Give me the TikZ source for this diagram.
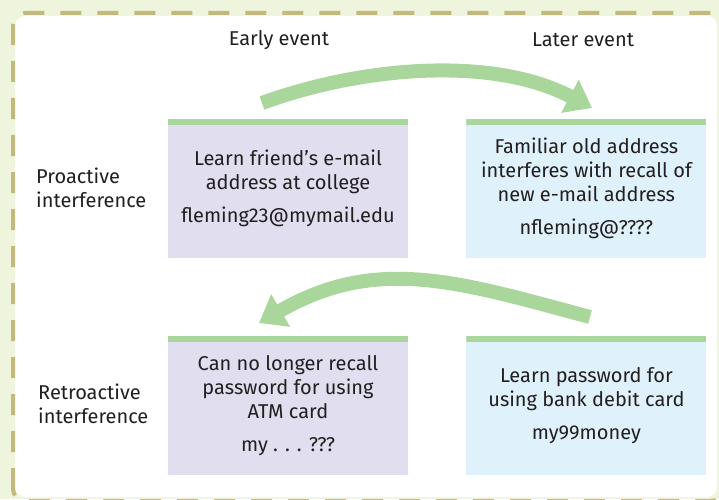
\documentclass[tikz,border=0pt]{standalone}
\usepackage{xcolor}
\usepackage{fontspec}
\setmainfont{Fira Sans}
\usetikzlibrary{arrows.meta,positioning}

\definecolor{pagegreen}{HTML}{EFF5DC}
\definecolor{dashkhaki}{HTML}{C2B97E}
\definecolor{lavender}{HTML}{E0DEEF}
\definecolor{skyblue}{HTML}{DFF1FB}
\definecolor{bargreen}{HTML}{A9D69B}
\definecolor{ink}{HTML}{231F20}

\begin{document}
\begin{tikzpicture}[x=1pt, y=1pt,
	box/.style={minimum width=240pt, minimum height=139pt, inner sep=0pt, align=center,
		text=ink, font=\fontsize{20}{24}\selectfont,
		path picture={\fill[bargreen] ([yshift=-6pt]path picture bounding box.north west)
			rectangle (path picture bounding box.north east);}},
	sidelabel/.style={anchor=west, align=left, inner sep=0pt, text=ink, font=\fontsize{20}{24}\selectfont},
	headlabel/.style={inner sep=0pt, text=ink, font=\fontsize{20}{24}\selectfont},
	bigarrow/.style={draw=bargreen, line width=14pt, -{Triangle[width=36pt, length=25pt]}}]
			\def\gap{9pt}
			
			% background and dashed frame
			\fill[pagegreen] (0,0) rectangle (719,499);
			\useasboundingbox (0,0) rectangle (719,499);
			\fill[white, rounded corners=10pt] (15,2) rectangle (717,483);
			\draw[dashkhaki, line width=4pt, dash pattern=on 21pt off 16pt, rounded corners=12pt]
			(13,-2) rectangle (723,486);
			
			% proactive row
			\node[box, fill=lavender] (learnmail) at (288,310.5)
			{Learn friend’s e-mail\\address at college\\[\gap]fleming23@mymail.edu};
			\node[box, fill=skyblue, right=58pt of learnmail] (recallmail)
			{Familiar old address\\interferes with recall of\\new e-mail address\\[\gap]nfleming@????};
			
			% retroactive row
			\node[box, fill=lavender, below=78pt of learnmail] (recallpin)
			{Can no longer recall\\password for using\\ATM card\\[\gap]my . . . ???};
			\node[box, fill=skyblue, right=58pt of recallpin] (learnpin)
			{Learn password for\\using bank debit card\\[\gap]my99money};
			
			\node[headlabel] (early) at (279,459) {Early event};
			\node[headlabel] (later) at (583,459) {Later event};
			\node[sidelabel] (proactive) at (36,311.5) {Proactive\\interference};
			\node[sidelabel] (retroactive) at (38,95.5) {Retroactive\\interference};
			
			% curved arrows
			\coordinate (pro-tail) at (262,396);
			\coordinate (pro-tip) at (592,391);
			\coordinate (retro-tail) at (590,182);
			\coordinate (retro-tip) at (259,176);
			\draw[bigarrow] (pro-tail) to[out=20, in=152, looseness=0.85] (pro-tip);
			\draw[bigarrow] (retro-tail) to[out=165, in=30, looseness=1.05] (retro-tip);
\end{tikzpicture}
\end{document}
